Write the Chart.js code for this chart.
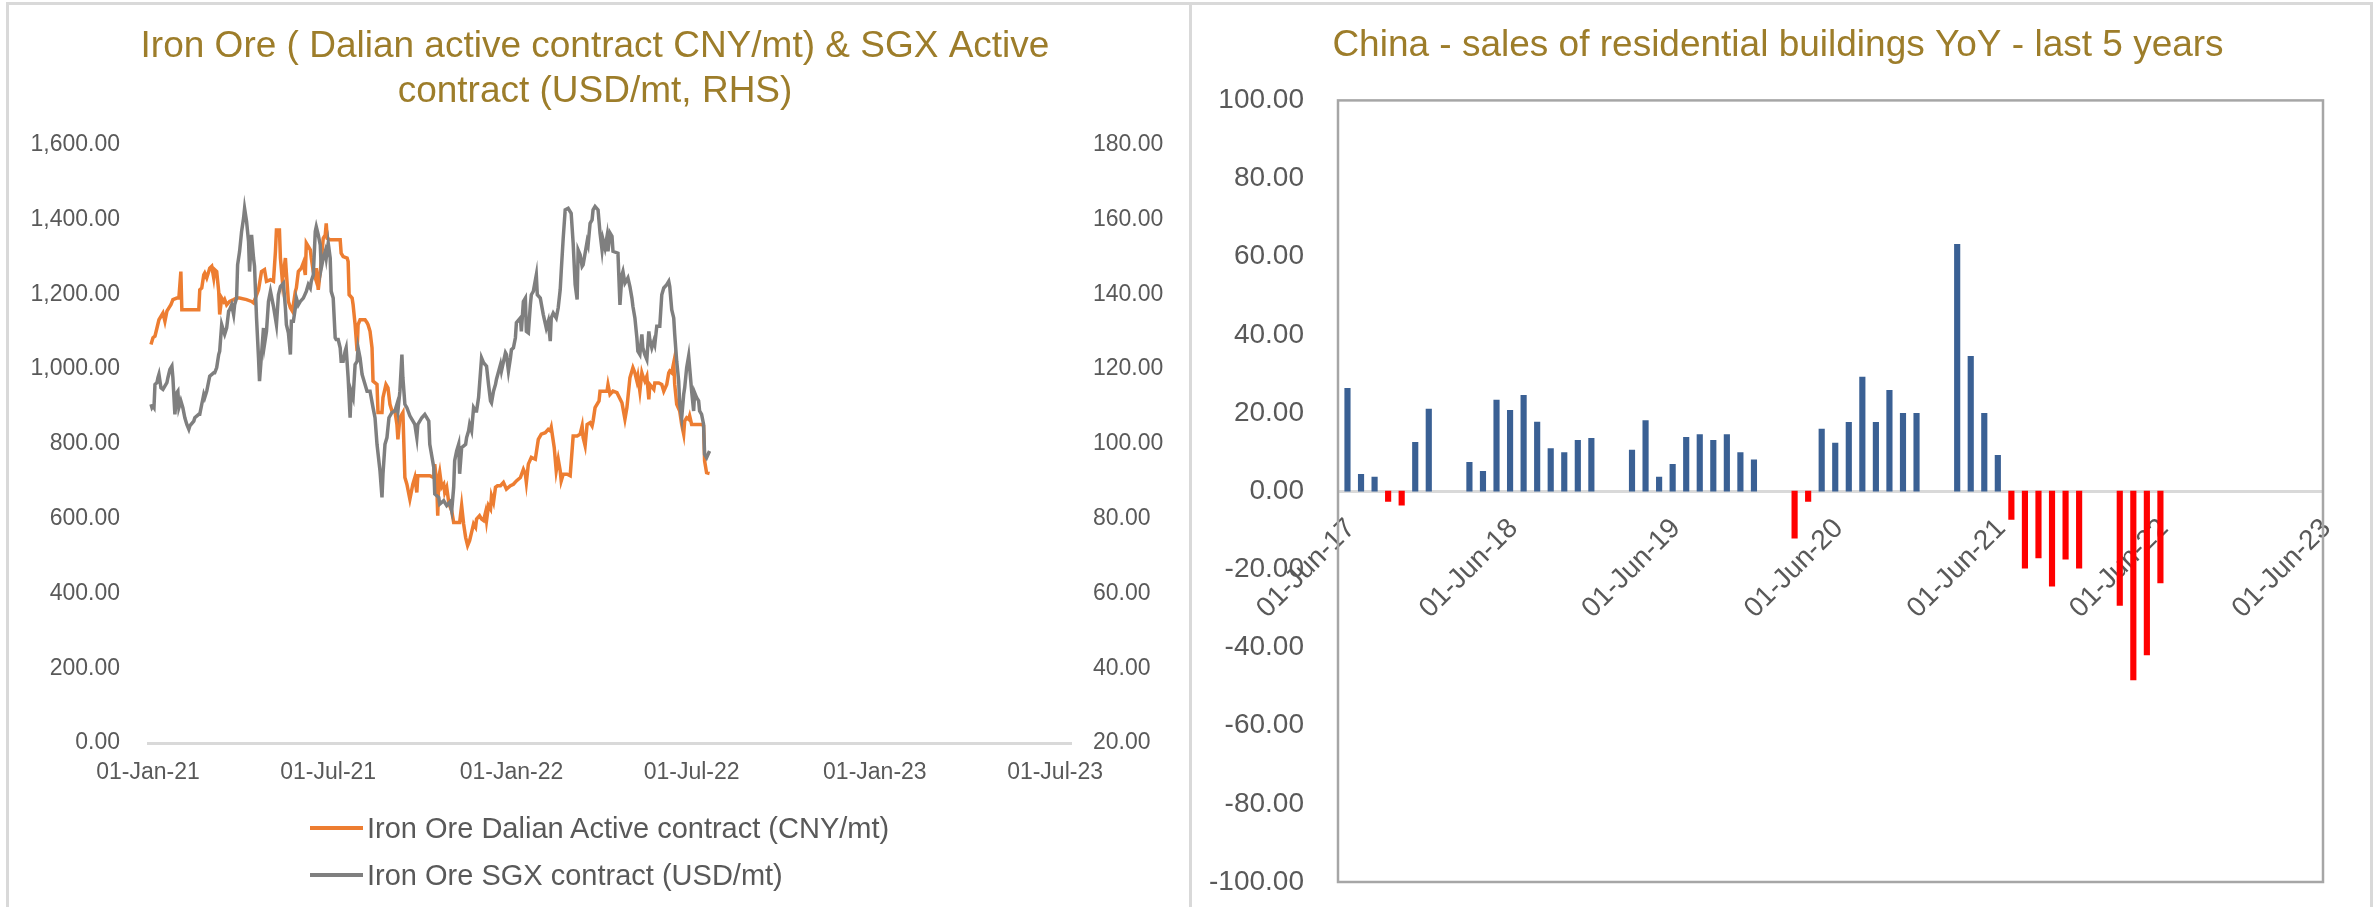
<!DOCTYPE html>
<html>
<head>
<meta charset="utf-8">
<script src="https://cdn.jsdelivr.net/npm/chart.js@4.4.1/dist/chart.umd.min.js"></script>
<style>
  body { margin: 0; background: #fff; width: 2376px; height: 907px; overflow: hidden; position: relative;
         font-family: "Liberation Sans", Arial, sans-serif; }
  .panel { position: absolute; top: 2px; height: 960px; border: 3px solid #d9d9d9; border-bottom: none; }
  canvas { position: absolute; top: 0; }
  .legend-row { position: absolute; left: 310px; height: 34px; display: flex; align-items: center;
                font-size: 29px; line-height: 34px; color: #595959; white-space: nowrap; }
  .legend-row span { display: inline-block; width: 53px; height: 4px; margin-right: 4px; }
</style>
</head>
<body>
<div class="panel" style="left:6px; width:1180px"></div>
<div class="panel" style="left:1189px; width:1178px"></div>

<canvas id="ore" width="1190" height="907" style="left:0"></canvas>
<canvas id="sales" width="1172" height="907" style="left:1192px"></canvas>

<div class="legend-row" style="top:811px"><span style="background:#ed7d31"></span>Iron Ore Dalian Active contract (CNY/mt)</div>
<div class="legend-row" style="top:858px"><span style="background:#7f7f7f"></span>Iron Ore SGX contract (USD/mt)</div>

<script>
// ---- left chart: iron ore, days counted from 01-Jan-21 ----
const oreTitle = ['Iron Ore ( Dalian active contract CNY/mt) & SGX Active', 'contract (USD/mt, RHS)']
const oreTickDays = [0, 181, 365, 546, 730, 911]
const oreTickLabels = ['01-Jan-21', '01-Jul-21', '01-Jan-22', '01-Jul-22', '01-Jan-23', '01-Jul-23']

const dalianDay = [3,5,7,9,11,13,15,17,19,21,23,25,29,31,33,34,36,51,52,54,56,57,59,61,62,64,66,67,69,71,72,74,76,77,79,82,86,89,92,99,
  104,106,111,114,117,119,123,126,128,129,132,133,135,138,139,141,143,145,148,149,151,154,156,158,159,161,163,164,166,168,169,171,173,174,176,178,179,180,183,193,194,196,
  200,201,202,205,206,208,210,211,213,218,220,221,223,225,226,230,231,235,236,239,241,243,245,248,250,251,253,256,258,260,263,266,268,270,271,283,287,288,290,291,292,293,295,297,298,
  300,302,303,305,307,313,315,317,319,321,323,327,329,330,333,335,337,339,340,342,344,345,347,349,351,354,357,360,364,367,370,374,377,379,380,382,385,389,392,395,399,
  402,404,405,408,410,412,414,415,417,421,424,427,431,434,436,437,439,441,444,446,447,449,453,454,457,461,462,464,467,471,476,479,481,484,487,489,491,492,494,496,497,499,
  501,503,504,508,509,513,516,518,521,523,524,526,528,529,531,534,536,538,539,541,543,544,546,556,558,559,561,564]
const dalianPrice = [1066,1084,1088,1110,1132,1141,1150,1128,1155,1164,1172,1186,1190,1190,1261,1159,1159,1159,1212,1217,1252,1257,1244,1261,1270,1275,1244,1266,1261,1208,1146,1190,1181,1186,1172,1181,1186,1190,1190,1186,
  1181,1177,1212,1261,1266,1235,1239,1235,1315,1372,1372,1297,1235,1297,1257,1181,1164,1155,1208,1217,1261,1270,1284,1252,1337,1328,1319,1297,1261,1244,1270,1212,1261,1288,1350,1359,1390,1350,1346,1346,1310,1301,
  1297,1288,1199,1190,1172,1119,1048,1119,1132,1132,1124,1119,1101,1057,968,959,884,884,924,959,950,906,888,888,852,812,870,884,710,692,652,692,710,670,715,715,710,746,692,608,710,724,684,692,670,
  684,644,635,621,590,590,635,586,550,528,541,586,577,599,608,599,595,617,595,635,626,661,644,684,688,688,697,679,688,692,701,710,732,719,697,746,764,759,812,826,830,
  839,835,844,790,728,759,728,701,719,719,715,821,821,826,848,817,795,852,857,848,861,897,915,941,941,941,959,932,941,937,910,866,897,977,1004,990,968,981,941,990,981,968,
  981,919,959,946,963,963,959,941,959,990,995,990,1017,959,906,888,852,826,861,870,866,875,852,852,848,755,723,721]

const sgxDay = [3,4,5,6,7,9,10,11,13,15,19,20,22,24,25,27,29,30,31,33,35,37,39,41,42,46,47,51,52,54,56,57,59,62,66,67,69,71,72,74,76,77,79,81,82,84,86,87,89,90,92,94,96,97,99,
  101,102,104,106,107,109,111,112,114,116,117,119,121,123,126,129,131,133,136,138,139,141,143,144,146,148,149,151,153,156,159,161,163,164,166,168,169,171,173,174,176,178,179,181,183,184,186,188,189,191,193,194,196,198,199,
  201,203,204,206,208,210,211,213,215,216,220,223,226,228,230,233,235,236,238,240,242,245,248,250,251,253,255,256,258,260,263,268,270,271,275,278,282,283,287,288,292,293,297,
  300,303,305,307,308,310,312,313,315,319,320,322,323,325,327,329,330,332,333,335,337,340,342,344,345,347,349,350,354,355,359,360,362,364,365,367,369,370,374,375,377,379,380,382,384,385,387,390,391,394,397,
  400,402,404,405,407,410,412,414,415,417,419,422,425,427,429,431,432,434,436,437,439,441,442,444,446,447,449,452,454,456,457,459,461,462,464,466,467,472,474,476,477,479,481,482,484,486,487,489,491,492,494,496,497,499,
  501,503,504,506,508,509,511,514,516,518,521,523,524,526,528,529,531,533,534,536,538,539,541,543,544,546,548,549,551,553,554,556,558,559,561,564]
const sgxPrice = [110.6,109.7,110.1,109.7,115.9,116.4,117.7,118.6,115.0,114.6,116.4,117.7,119.9,120.8,117.7,107.9,113.7,114.1,109.7,111.5,109.7,107.0,105.2,103.9,104.8,106.1,107.0,107.9,107.9,110.6,113.2,112.4,114.1,118.1,119.0,119.0,120.4,123.9,124.8,131.9,130.1,129.3,131.0,135.5,135.9,137.2,134.6,137.2,139.0,147.9,151.5,156.8,160.4,163.0,159.5,
  154.1,146.1,155.9,149.7,147.5,133.7,123.0,116.8,123.9,131.0,126.6,130.1,138.1,140.8,136.8,131.9,139.9,142.1,143.0,136.4,131.9,129.7,123.9,132.8,132.8,136.4,139.0,137.2,138.1,139.0,140.8,142.6,141.7,143.5,145.2,156.8,158.1,155.9,153.2,147.0,149.7,151.5,149.7,153.7,149.7,140.8,139.0,128.4,127.9,127.9,125.7,122.1,122.1,124.8,125.7,
  117.7,107.0,114.1,112.4,121.2,122.1,125.7,123.0,118.6,117.7,114.1,114.1,109.7,107.0,99.9,92.8,85.7,92.0,99.9,101.7,107.0,108.4,108.8,110.6,108.8,114.1,123.9,117.7,110.6,109.7,107.5,105.2,101.7,105.2,107.0,107.9,106.1,99.9,93.7,86.6,85.7,83.9,84.8,
  83.5,84.4,82.1,88.4,95.5,98.1,99.9,92.0,99.0,99.9,101.7,103.5,105.2,103.5,109.7,108.8,108.8,112.4,115.9,123.0,121.7,120.8,115.9,111.5,111.0,114.1,115.9,117.3,121.2,119.5,124.4,123.9,119.5,123.0,125.2,125.7,128.4,132.4,133.7,130.1,138.1,139.0,130.1,129.7,137.2,139.9,140.8,145.2,139.9,139.0,134.6,
  131.0,132.8,127.5,133.7,135.0,133.7,136.4,141.3,146.1,155.0,162.6,163.0,161.7,153.7,142.6,138.6,151.9,150.6,147.5,147.9,151.0,154.1,153.2,159.0,159.9,162.6,163.5,162.6,156.4,151.9,154.6,152.4,155.5,151.5,156.4,155.5,151.5,151.0,137.2,145.2,146.1,143.0,143.9,144.4,142.1,139.0,136.8,133.7,128.4,124.8,123.9,129.3,125.7,123.9,
  122.6,130.1,127.9,125.7,127.5,126.6,131.5,131.5,139.9,141.7,142.6,143.5,142.1,135.9,133.7,129.3,122.1,116.8,110.6,107.0,113.2,115.0,120.4,123.5,120.4,114.1,108.8,113.7,112.4,111.5,108.8,107.9,105.2,97.2,96.3,98.1]

// ---- right chart: China residential sales YoY (no Jan/Feb prints) ----
const salesTitle = 'China - sales of residential buildings YoY - last 5 years'
const salesMonths = ['Jun-17','Jul-17','Aug-17','Sep-17','Oct-17','Nov-17','Dec-17',
  'Mar-18','Apr-18','May-18','Jun-18','Jul-18','Aug-18','Sep-18','Oct-18','Nov-18','Dec-18',
  'Mar-19','Apr-19','May-19','Jun-19','Jul-19','Aug-19','Sep-19','Oct-19','Nov-19','Dec-19',
  'Mar-20','Apr-20','May-20','Jun-20','Jul-20','Aug-20','Sep-20','Oct-20','Nov-20','Dec-20',
  'Mar-21','Apr-21','May-21','Jun-21','Jul-21','Aug-21','Sep-21','Oct-21','Nov-21','Dec-21',
  'Mar-22','Apr-22','May-22','Jun-22']
const salesYoY = [26.3, 4.3, 3.6, -2.6, -3.6, 12.5, 21.0,
  7.4, 5.1, 23.3, 20.7, 24.5, 17.7, 10.9, 9.9, 13.0, 13.5,
  10.5, 18.1, 3.6, 6.9, 13.8, 14.5, 13.0, 14.5, 9.9, 8.0,
  -12.0, -2.6, 15.9, 12.3, 17.6, 29.2, 17.6, 25.8, 19.9, 19.9,
  63.2, 34.5, 19.9, 9.2, -7.2, -19.7, -17.1, -24.3, -17.4, -19.7,
  -29.2, -48.3, -41.9, -23.5]
const salesTickMonths = [0, 12, 24, 36, 48, 60, 72]
const salesTickLabels = ['01-Jun-17', '01-Jun-18', '01-Jun-19', '01-Jun-20', '01-Jun-21', '01-Jun-22', '01-Jun-23']

const GOLD = '#9d7d2a'
const MONTHS = ['Jan','Feb','Mar','Apr','May','Jun','Jul','Aug','Sep','Oct','Nov','Dec']

Chart.defaults.font.family = '"Liberation Sans", Arial, sans-serif'
Chart.defaults.color = '#595959'

const fmt = v => v.toLocaleString('en-US', { minimumFractionDigits: 2, maximumFractionDigits: 2 })
const noGrid = { display: false, drawTicks: false }

// months since Jun-17; bars sit a bit past the tick like the excel date axis
const monthPos = m => {
  const [mon, yy] = m.split('-')
  return (2000 + Number(yy) - 2017) * 12 + MONTHS.indexOf(mon) - 5 + 0.7
}

new Chart(document.getElementById('ore'), {
  type: 'line',
  data: {
    datasets: [
      {
        label: 'Iron Ore Dalian Active contract (CNY/mt)',
        data: dalianDay.map((d, i) => ({ x: d, y: dalianPrice[i] })),
        borderColor: '#ed7d31', borderWidth: 3.5, pointRadius: 0, tension: 0,
        yAxisID: 'y', order: 1
      },
      {
        label: 'Iron Ore SGX contract (USD/mt)',
        data: sgxDay.map((d, i) => ({ x: d, y: sgxPrice[i] })),
        borderColor: '#7f7f7f', borderWidth: 3.5, pointRadius: 0, tension: 0,
        yAxisID: 'y1', order: 0
      }
    ]
  },
  options: {
    responsive: false,
    animation: false,
    layout: { padding: { left: 0, right: 0, top: 0, bottom: 104 } },
    plugins: {
      legend: { display: false },
      tooltip: { enabled: false },
      title: {
        display: true, text: oreTitle, color: GOLD,
        font: { size: 37, weight: 'normal' }, padding: { top: 25, bottom: 31 }
      }
    },
    scales: {
      x: {
        type: 'linear', min: 0, max: 927,
        afterBuildTicks: s => { s.ticks = oreTickDays.map(v => ({ value: v })) },
        afterFit: s => { s.height = 60 },
        ticks: { autoSkip: false, maxRotation: 0, minRotation: 0, padding: 16, font: { size: 23 },
                 callback: (v, i) => oreTickLabels[i] },
        grid: noGrid,
        border: { color: '#d9d9d9', width: 3 }
      },
      y: {
        position: 'left', min: 0, max: 1600,
        afterFit: s => { s.width = 148 },
        ticks: { stepSize: 200, padding: 28, font: { size: 23 }, callback: v => fmt(v) },
        grid: noGrid, border: { display: false }
      },
      y1: {
        position: 'right', min: 20, max: 180,
        afterFit: s => { s.width = 119 },
        ticks: { stepSize: 20, padding: 22, font: { size: 23 }, callback: v => fmt(v) },
        grid: noGrid, border: { display: false }
      }
    }
  }
})

const plotFrame = {
  id: 'plotFrame',
  beforeDatasetsDraw(chart) {
    const { ctx, chartArea: a } = chart
    ctx.save()
    ctx.strokeStyle = '#a6a6a6'
    ctx.lineWidth = 2.5
    ctx.strokeRect(a.left, a.top, a.right - a.left, a.bottom - a.top)
    ctx.restore()
  }
}

// the x axis sits on the zero line; keep its pixel range equal to the plot area
const pinX = {
  id: 'pinX',
  afterLayout(chart) {
    const s = chart.scales.x, a = chart.chartArea
    s.left = a.left
    s.right = a.right
    s.width = a.right - a.left
    s.configure()
  }
}

new Chart(document.getElementById('sales'), {
  type: 'bar',
  data: {
    datasets: [{
      label: 'Sales of residential buildings YoY',
      data: salesMonths.map((m, i) => ({ x: monthPos(m), y: salesYoY[i] })),
      backgroundColor: c => (c.raw && c.raw.y < 0 ? '#ff0000' : '#3a6094'),
      barThickness: 5.5
    }]
  },
  options: {
    responsive: false,
    animation: false,
    layout: { padding: { left: 0, right: 0, top: 0, bottom: 25 } },
    plugins: {
      legend: { display: false },
      tooltip: { enabled: false },
      title: {
        display: true, text: salesTitle, color: GOLD,
        font: { size: 37, weight: 'normal' }, padding: { top: 24, bottom: 32 }
      }
    },
    scales: {
      x: {
        type: 'linear', position: { y: 0 }, min: 0, max: 72.7, offset: false,
        afterBuildTicks: s => { s.ticks = salesTickMonths.map(v => ({ value: v })) },
        ticks: { autoSkip: false, minRotation: 45, maxRotation: 45, padding: 21, labelOffset: 13,
                 font: { size: 28 }, callback: (v, i) => salesTickLabels[i] },
        grid: noGrid,
        border: { color: '#d9d9d9', width: 3 }
      },
      y: {
        min: -100, max: 100,
        afterFit: s => { s.width = 146 },
        ticks: { stepSize: 20, padding: 4, font: { size: 28 }, callback: v => v.toFixed(2) },
        grid: { display: false, drawTicks: true, tickLength: 30 },
        border: { display: false }
      },
      // empty strip on the right so the title centres over the whole panel
      yPad: {
        position: 'right',
        afterFit: s => { s.width = 41 },
        ticks: { display: false },
        grid: noGrid, border: { display: false }
      }
    }
  },
  plugins: [plotFrame, pinX]
})
</script>
</body>
</html>
